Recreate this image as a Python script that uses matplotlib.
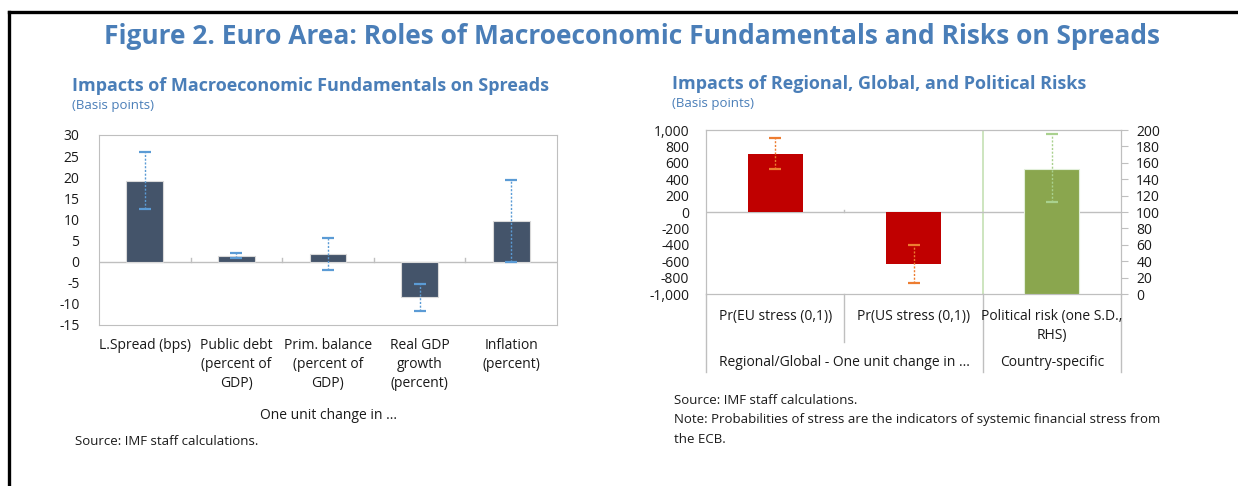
import matplotlib
matplotlib.use("Agg")
import matplotlib.pyplot as plt
import matplotlib.transforms as mtransforms
from matplotlib.lines import Line2D
import numpy as np

plt.rcParams["font.family"] = ["Open Sans", "DejaVu Sans"]
plt.rcParams["axes.unicode_minus"] = False

# left panel: impacts of macro fundamentals
left_cats = ["L.Spread (bps)", "Public debt\n(percent of\nGDP)", "Prim. balance\n(percent of\nGDP)",
             "Real GDP\ngrowth\n(percent)", "Inflation\n(percent)"]
left_vals = [19.1, 1.4, 1.7, -8.4, 9.6]
left_lo = [12.4, 0.8, -2.0, -11.8, 0.0]
left_hi = [25.9, 2.0, 5.5, -5.2, 19.3]

# right panel: regional, global and political risks
right_cats = ["Pr(EU stress (0,1))", "Pr(US stress (0,1))", "Political risk (one S.D.,\nRHS)"]
right_vals = [710, -640]
right_lo = [530, -870]
right_hi = [900, -400]
rhs_val = 153
rhs_lo = 112
rhs_hi = 195
right_groups = ["Regional/Global - One unit change in ...", "Country-specific"]

BLUE = "#4A7EB8"
GRID = "#BFBFBF"
TXT = "#1a1a1a"

fig = plt.figure(figsize=(12.38, 4.86), dpi=100)

# black frame around figure
fig.add_artist(Line2D([9 / 1238, 9 / 1238], [0, 1 - 12.5 / 486], color="black", lw=2.4,
                      transform=fig.transFigure))
fig.add_artist(Line2D([9 / 1238, 1], [1 - 12.5 / 486, 1 - 12.5 / 486], color="black", lw=2.4,
                      transform=fig.transFigure))

fig.text(632 / 1238, 1 - 36 / 486, "Figure 2. Euro Area: Roles of Macroeconomic Fundamentals and Risks on Spreads",
         ha="center", va="center", fontsize=19, fontweight="bold", color=BLUE)
fig.text(72 / 1238, 1 - 86 / 486, "Impacts of Macroeconomic Fundamentals on Spreads",
         ha="left", va="center", fontsize=13, fontweight="bold", color=BLUE)
fig.text(72 / 1238, 1 - 105 / 486, "(Basis points)", ha="left", va="center", fontsize=9.5, color=BLUE)
fig.text(672 / 1238, 1 - 84 / 486, "Impacts of Regional, Global, and Political Risks",
         ha="left", va="center", fontsize=13, fontweight="bold", color=BLUE)
fig.text(672 / 1238, 1 - 104 / 486, "(Basis points)", ha="left", va="center", fontsize=9.5, color=BLUE)


def dotted_err(ax, x, v, lo, hi, color):
    yerr = np.array([np.array(v) - np.array(lo), np.array(hi) - np.array(v)])
    _, caps, cols = ax.errorbar(x, v, yerr=yerr, fmt="none", ecolor=color, elinewidth=1.0,
                                capsize=4, capthick=1.6, zorder=4)
    for c in cols:
        c.set_linestyle((0, (1.5, 1.2)))


# ---------- left chart ----------
ax = fig.add_axes([99 / 1238, 1 - 325 / 486, 458 / 1238, 190 / 486])
x = np.arange(len(left_cats))
ax.bar(x, left_vals, width=0.4, color="#44546A", edgecolor="#D9D9D9", linewidth=0.8, zorder=3)
dotted_err(ax, x, left_vals, left_lo, left_hi, "#5B9BD5")
ax.set_xlim(-0.5, len(left_cats) - 0.5)
ax.set_ylim(-15, 30)
ax.set_yticks(range(-15, 31, 5))
ax.axhline(0, color=GRID, lw=1, zorder=2)
for s in ax.spines.values():
    s.set_color(GRID)
ax.tick_params(axis="y", length=0, labelsize=10, colors=TXT, pad=14)
ax.set_xticks([])
for xi in x[:-1] + 0.5:
    ax.plot([xi, xi], [0, 0.9], color=GRID, lw=1, zorder=2)
tr = mtransforms.blended_transform_factory(ax.transData, ax.transAxes)
for xi, lab in zip(x, left_cats):
    ax.text(xi, -0.07, lab, transform=tr, ha="center", va="top", fontsize=10, color=TXT, linespacing=1.35)
ax.text(0.5, -0.475, "One unit change in ...", transform=ax.transAxes, ha="center", va="center",
        fontsize=10, color=TXT)
fig.text(75 / 1238, 1 - 441 / 486, "Source: IMF staff calculations.", ha="left", va="center",
         fontsize=9.5, color=TXT)

# ---------- right chart ----------
ax2 = fig.add_axes([706 / 1238, 1 - 294 / 486, 415 / 1238, 164 / 486])
x2 = np.arange(len(right_cats))
ax2.bar(x2[:2], right_vals, width=0.4, color="#C00000", zorder=3)
dotted_err(ax2, x2[:2], right_vals, right_lo, right_hi, "#ED7D31")
ax2.set_xlim(-0.5, 2.5)
ax2.set_ylim(-1000, 1000)
ax2.set_yticks(range(-1000, 1001, 200))
ax2.set_yticklabels([f"{v:,}" for v in range(-1000, 1001, 200)])
ax2.axhline(0, color=GRID, lw=1, zorder=2)
ax2.plot([0.5, 0.5], [0, 30], color=GRID, lw=1, zorder=2)
ax2.axvline(1.5, color="#C5E0B4", lw=1.2, zorder=1)
for s in ax2.spines.values():
    s.set_color(GRID)
ax2.tick_params(axis="y", length=0, labelsize=10, colors=TXT, pad=12)
ax2.set_xticks([])

ax2r = ax2.twinx()
ax2r.bar([x2[2]], [rhs_val], width=0.4, color="#8AA64E", edgecolor="#E2EFDA", linewidth=0.8, zorder=3)
dotted_err(ax2r, [x2[2]], [rhs_val], [rhs_lo], [rhs_hi], "#A9D18E")
ax2r.set_ylim(0, 200)
ax2r.set_yticks(range(0, 201, 20))
for s in ax2r.spines.values():
    s.set_color(GRID)
ax2r.tick_params(axis="y", length=5, color=GRID, labelsize=10, colors=TXT, pad=6)
ax2r.tick_params(axis="y", color=GRID)
ax2r.set_xlim(-0.5, 2.5)

tr2 = mtransforms.blended_transform_factory(ax2.transData, ax2.transAxes)
for xi, lab in zip(x2, right_cats):
    ax2.text(xi, -0.09, lab, transform=tr2, ha="center", va="top", fontsize=10, color=TXT, linespacing=1.35)
ax2.text(0.5, -0.42, right_groups[0], transform=tr2, ha="center", va="center", fontsize=10, color=TXT)
ax2.text(2.0, -0.42, right_groups[1], transform=tr2, ha="center", va="center", fontsize=10, color=TXT)
for xi, depth in [(-0.5, -0.475), (0.5, -0.29), (1.5, -0.475), (2.5, -0.475)]:
    ax2.plot([xi, xi], [0, depth], transform=tr2, color=GRID, lw=1, clip_on=False)
fig.text(674 / 1238, 1 - 400 / 486, "Source: IMF staff calculations.", ha="left", va="center",
         fontsize=9.5, color=TXT)
fig.text(674 / 1238, 1 - 420 / 486,
         "Note: Probabilities of stress are the indicators of systemic financial stress from",
         ha="left", va="center", fontsize=9.5, color=TXT)
fig.text(674 / 1238, 1 - 439 / 486, "the ECB.", ha="left", va="center", fontsize=9.5, color=TXT)

fig.savefig("out.png", dpi=100)
